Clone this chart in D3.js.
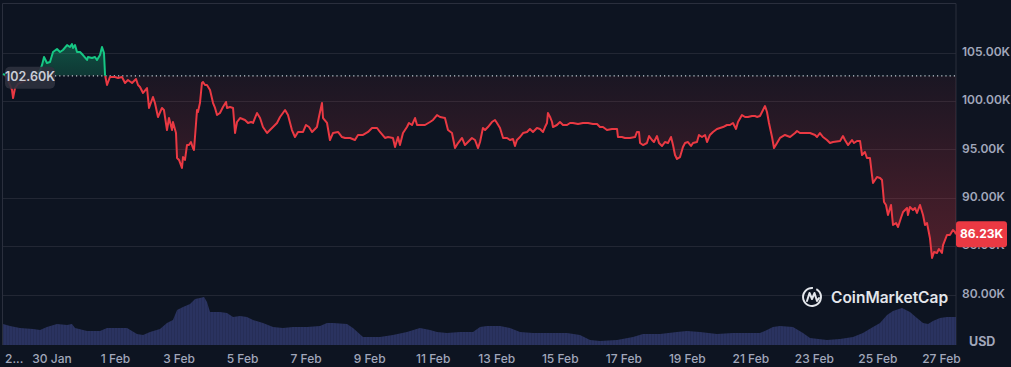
<!DOCTYPE html>
<html><head><meta charset="utf-8">
<script src="https://cdn.jsdelivr.net/npm/d3@7"></script>
<style>html,body{margin:0;padding:0;background:#0d1421;overflow:hidden;} svg{display:block;font-family:Inter,"Noto Sans",sans-serif;}</style>
</head><body><svg id="chart" width="1011" height="367"></svg>
<script>
// ---- data (hours since 28 Jan 2025 11:00 UTC, price in thousands USD) ----
const startTime = Date.UTC(2025, 0, 28, 11);
const spanHours = 720;
const pricePoints = [
[0,102.79],[1.5,102.69],[3,102.38],[5.3,101.65],[6.8,101.14],[7.6,100.31],[9.1,101.34],[11.3,101.76],[14.4,101.96],[18.1,102.17],
[21.9,102.38],[25.7,102.79],[28,103.20],[29.5,103.72],[31,104.55],[33.2,103.93],[35.5,104.03],[37.8,105.06],[40.8,105.37],[43.1,105.06],
[45.3,105.27],[48.4,105.78],[50.6,105.58],[52.1,105.89],[52.9,105.47],[54.4,105.78],[55.9,105.06],[58.2,105.06],[60.4,104.75],[63.5,104.24],
[64.2,104.55],[67.2,104.44],[69.5,104.55],[71,104.24],[73.3,104.75],[74.8,105.58],[76.3,104.96],[77.1,102.69],[78.6,101.65],[80.8,102.48],
[84.6,102.48],[86.9,102.38],[89.9,102.48],[92.2,101.86],[94.4,102.17],[97.5,101.86],[100.5,102.27],[102,101.65],[103.5,101.45],[105.8,100.83],
[108.8,101.34],[110.3,99.28],[113.3,100.41],[114.8,99.79],[117.1,98.35],[120.1,99.28],[121.6,99.07],[123.9,97.00],[125.4,98.24],[127.7,97.00],
[128.4,97.83],[130.7,96.69],[131.5,94.11],[133,93.91],[135.2,93.08],[136,94.21],[137.5,93.91],[139,95.45],[140.5,95.45],[142,95.76],
[143.5,95.14],[144.3,94.94],[146.6,99.07],[147.3,98.86],[148.8,99.79],[150.3,101.86],[151.1,101.96],[152.6,101.65],[154.1,101.65],[156.4,101.14],
[158.7,99.79],[160.2,99.28],[161.7,98.55],[163.9,98.76],[166.2,99.38],[168.5,99.90],[169.2,99.28],[171.5,99.38],[173.8,99.28],[175.3,96.69],
[176.8,97.83],[179.1,98.24],[182.8,98.04],[185.1,97.73],[187.4,97.83],[188.9,97.73],[191.9,98.76],[194.2,98.24],[196.4,97.31],[199.5,96.69],
[201.7,97.00],[204,97.31],[207,97.73],[209.3,98.35],[213.1,99.07],[215.3,98.55],[218.3,97.00],[220.6,96.28],[222.9,96.80],[226.7,96.80],
[228.9,97.52],[231.2,97.31],[233.5,96.80],[237.2,97.31],[238.7,98.35],[241,99.79],[241.8,98.24],[244.8,97.73],[247,95.97],[249.3,96.69],
[253.1,96.80],[256.1,96.28],[258.4,96.18],[262.2,96.18],[265.9,95.97],[268.2,96.49],[272,96.49],[275.8,96.80],[278.8,97.21],[282.6,97.21],
[284.8,96.80],[288.6,96.18],[290.9,96.28],[294.6,96.18],[296.2,95.25],[298.4,96.28],[299.9,95.45],[302.2,96.69],[305.2,97.31],[306.7,97.73],
[309,97.52],[311.3,98.24],[312.8,97.52],[315,97.52],[318.8,97.52],[322.6,97.83],[324.9,98.04],[327.9,98.55],[330.2,98.35],[333.9,98.24],
[336.2,97.00],[339.2,96.69],[341.5,95.14],[343.8,95.66],[346.8,96.18],[349,95.45],[351.3,95.76],[354.3,96.18],[356.6,95.97],[358.9,95.14],
[360.4,95.76],[362.6,97.21],[364.2,97.00],[366.4,97.31],[369.4,97.83],[371.7,98.04],[373.2,97.73],[375.5,97.21],[377.8,96.18],[380.8,96.18],
[383,95.97],[385.3,96.07],[386.8,95.35],[388.3,95.97],[390.6,96.28],[392.9,96.69],[395.9,96.80],[398.1,97.11],[400.4,96.80],[403.4,97.21],
[405.7,97.11],[408,96.80],[409.5,97.31],[411,97.73],[411.7,98.76],[413.3,98.35],[414.8,97.83],[415.5,97.31],[418.5,97.52],[420.8,97.83],
[423.1,97.52],[426.1,97.52],[428.4,97.73],[430.6,97.73],[434.4,97.62],[438.2,97.73],[442,97.73],[445.7,97.62],[448.8,97.62],[451,97.31],
[453.3,97.31],[456.3,97.00],[460.1,97.11],[463.9,97.11],[464.6,96.28],[467.6,96.28],[469.9,96.18],[473.7,96.18],[477.5,96.28],[479,96.80],
[480.5,96.80],[481.3,95.66],[483.5,95.45],[486.5,95.66],[488.1,96.38],[490.3,95.97],[491.8,95.76],[494.1,96.38],[495.6,95.66],[497.9,95.35],
[500.1,95.76],[502.4,95.66],[504.7,96.28],[506.2,95.45],[507.7,94.42],[509.2,94.01],[511.5,94.21],[513.7,95.25],[515.3,95.66],[517.5,95.76],
[519.8,95.35],[521.3,95.66],[524.3,95.76],[525.8,96.49],[528.1,96.28],[530.4,96.49],[531.9,95.76],[534.1,96.49],[536.4,96.80],[539.4,97.11],
[541.7,97.21],[544,97.31],[547,97.52],[549.2,97.52],[551.5,97.73],[553.8,97.11],[555.3,97.83],[558.3,98.55],[560.6,98.35],[562.8,98.35],
[565.9,98.45],[568.1,98.45],[569.6,98.35],[571.9,98.45],[574.2,99.07],[575.7,99.48],[577.2,98.86],[578.7,97.73],[581,96.28],[582.5,95.14],
[584.8,95.66],[587,96.18],[590.8,96.49],[594.6,96.28],[598.4,96.69],[599.9,96.90],[602.1,96.69],[607.4,96.69],[609.7,96.69],[613.5,96.49],
[615,96.28],[617.2,96.69],[619.5,96.28],[622.5,95.97],[624.8,95.66],[627.1,95.76],[632.4,95.87],[634.6,96.38],[636.1,95.97],[638.4,95.45],
[641.4,95.97],[642.9,95.66],[645.2,95.87],[647.5,95.87],[649,94.42],[651.2,94.73],[652.7,94.11],[655,94.11],[656.5,92.36],[657.3,91.53],
[660.3,92.15],[662.6,92.05],[664.1,91.84],[665.6,89.57],[667.1,89.26],[668.6,88.22],[670.9,89.26],[672.4,87.19],[674.7,87.40],[676.2,86.98],
[678.4,87.91],[680,88.53],[683,88.95],[683.7,88.22],[685.2,89.05],[687.5,88.74],[689,88.95],[690.5,88.43],[692.8,89.26],[695.1,88.22],
[696.6,87.19],[698.1,87.40],[700.3,85.85],[701.9,83.78],[703.4,84.40],[705.6,84.30],[707.1,84.71],[709.4,84.30],[710.2,85.12],[713.2,86.16],
[715.4,86.16],[717.7,86.67],[719.2,86.47],[720,86.23]
];
// volume (billions USD)
const volumePoints = [
[0,42],[5.3,38],[12.8,34],[22.7,32],[28,30],[33.2,36],[40.8,42],[48.4,40],[52.1,42],[54.4,34],
[63.5,28],[73.3,28],[78.6,34],[93.7,34],[101.2,22],[105.8,20],[111.1,26],[118.6,32],[123.9,44],[128.4,50],
[131.5,70],[136,76],[141.3,82],[145.1,92],[148.8,94],[151.9,96],[154.1,86],[156.4,66],[163.9,66],[169.2,64],
[173.8,56],[179.1,58],[184.3,56],[188.9,50],[196.4,44],[204,36],[211.5,34],[219.1,36],[229.7,36],[239.5,38],
[244.8,44],[249.3,44],[259.9,42],[264.4,34],[272,16],[284.8,16],[294.6,20],[305.2,26],[315,34],[322.6,30],
[327.9,26],[335.4,24],[345.3,26],[355.1,26],[360.4,36],[365.7,38],[375.5,38],[383,34],[390.6,26],[400.4,24],
[411,24],[415.5,24],[426.1,24],[435.9,20],[443.5,10],[451,8],[463.9,10],[476,16],[483.5,22],[496.4,22],
[509.2,26],[516.8,28],[526.6,26],[539.4,22],[551.5,24],[571.9,24],[577.2,30],[581.7,36],[587,38],[596.8,36],
[604.4,24],[609.7,14],[622.5,10],[632.4,12],[642.2,16],[649.7,24],[657.3,36],[662.6,44],[667.9,60],[672.4,68],
[679.2,74],[685.2,66],[690.5,54],[695.1,44],[698.9,42],[702.6,48],[707.9,54],[713.2,56],[719.2,56],[720,56]
];
const xTickDates = ["2025-01-28","2025-01-30","2025-02-01","2025-02-03","2025-02-05","2025-02-07","2025-02-09","2025-02-11",
  "2025-02-13","2025-02-15","2025-02-17","2025-02-19","2025-02-21","2025-02-23","2025-02-25","2025-02-27"];
const xTickLabels = ["2...","30 Jan","1 Feb","3 Feb","5 Feb","7 Feb","9 Feb","11 Feb","13 Feb","15 Feb","17 Feb","19 Feb","21 Feb","23 Feb","25 Feb","27 Feb"];
const yTickValues = [80, 85, 90, 95, 100, 105];
const yTickLabels = ["80.00K","85.00K","90.00K","95.00K","100.00K","105.00K"];
const baselinePrice = 102.60;
const lastPrice = 86.23;
const currencyLabel = "USD";
const brandName = "CoinMarketCap";

// ---- drawing ----
const svg = d3.select("#chart");
const W = 1011, H = 367;
const pLeft = 2.5, pRight = 956, pTop = 3, pBottom = 345;
const toDate = h => new Date(startTime + h * 3600e3);

const x = d3.scaleUtc().domain([toDate(0), toDate(spanHours)]).range([3, pRight]);
const y = d3.scaleLinear().domain([80, 105]).range([294.6, 52.6]);
const yv = d3.scaleLinear().domain([0, 100]).range([pBottom, 295]);

svg.append("rect").attr("width", W).attr("height", H).attr("fill", "#0d1421");

const defs = svg.append("defs");
const yBase = y(baselinePrice);
const yMin = y(d3.min(pricePoints, d => d[1]));

const gRed = defs.append("linearGradient").attr("id", "gRed").attr("gradientUnits", "userSpaceOnUse")
  .attr("x1", 0).attr("x2", 0).attr("y1", yBase).attr("y2", yMin);
gRed.append("stop").attr("offset", 0).attr("stop-color", "#ea3943").attr("stop-opacity", 0.06);
gRed.append("stop").attr("offset", 1).attr("stop-color", "#ea3943").attr("stop-opacity", 0.30);
const gGreen = defs.append("linearGradient").attr("id", "gGreen").attr("gradientUnits", "userSpaceOnUse")
  .attr("x1", 0).attr("x2", 0).attr("y1", y(106)).attr("y2", yBase);
gGreen.append("stop").attr("offset", 0).attr("stop-color", "#16c784").attr("stop-opacity", 0.34);
gGreen.append("stop").attr("offset", 1).attr("stop-color", "#16c784").attr("stop-opacity", 0.2);

defs.append("clipPath").attr("id", "clipAbove").append("rect")
  .attr("x", 0).attr("y", 0).attr("width", pRight).attr("height", yBase);
defs.append("clipPath").attr("id", "clipBelow").append("rect")
  .attr("x", 0).attr("y", yBase).attr("width", pRight).attr("height", H - yBase);

const pat = defs.append("pattern").attr("id", "volPat").attr("patternUnits", "userSpaceOnUse")
  .attr("width", 3).attr("height", 10);
pat.append("rect").attr("width", 3).attr("height", 10).attr("fill", "#2a3360");
pat.append("rect").attr("width", 0.7).attr("height", 10).attr("fill", "#242c53");

// gridlines
svg.append("g").selectAll("line").data(yTickValues).join("line")
  .attr("x1", pLeft).attr("x2", pRight).attr("y1", d => Math.round(y(d)) + 0.5).attr("y2", d => Math.round(y(d)) + 0.5)
  .attr("stroke", "#222734").attr("stroke-width", 1);

// frame
svg.append("path").attr("d", `M${pLeft},${pBottom}V${pTop + 0.5}H${pRight}V${pBottom}`)
  .attr("fill", "none").attr("stroke", "#2a2f3d").attr("stroke-width", 1);

// volume
const volArea = d3.area().x(d => x(toDate(d[0]))).y0(pBottom).y1(d => yv(d[1]));
svg.append("path").datum(volumePoints).attr("d", volArea).attr("fill", "url(#volPat)");

// price area
const area = d3.area().x(d => x(toDate(d[0]))).y0(yBase).y1(d => y(d[1]));
const line = d3.line().x(d => x(toDate(d[0]))).y(d => y(d[1]));
svg.append("path").datum(pricePoints).attr("d", area).attr("fill", "url(#gRed)").attr("clip-path", "url(#clipBelow)");
svg.append("path").datum(pricePoints).attr("d", area).attr("fill", "url(#gGreen)").attr("clip-path", "url(#clipAbove)");

// baseline dotted
svg.append("line").attr("x1", 55).attr("x2", pRight).attr("y1", yBase).attr("y2", yBase)
  .attr("stroke", "#c5c9d3").attr("stroke-width", 1.2).attr("stroke-dasharray", "1.2 3");

svg.append("path").datum(pricePoints).attr("d", line).attr("fill", "none").attr("stroke", "#ea3943")
  .attr("stroke-width", 2).attr("stroke-linejoin", "round").attr("clip-path", "url(#clipBelow)");
svg.append("path").datum(pricePoints).attr("d", line).attr("fill", "none").attr("stroke", "#16c784")
  .attr("stroke-width", 2).attr("stroke-linejoin", "round").attr("clip-path", "url(#clipAbove)");

// baseline label
svg.append("rect").attr("x", 5).attr("y", yBase - 9).attr("width", 50).attr("height", 22).attr("rx", 5)
  .attr("fill", "#2d313e").attr("fill-opacity", 0.9);
svg.append("text").attr("x", 30).attr("y", yBase + 2).attr("text-anchor", "middle").attr("dominant-baseline", "middle")
  .attr("fill", "#c9cdd6").attr("font-size", 12.5).attr("font-weight", 600).text(d3.format(".2f")(baselinePrice) + "K");

// y axis labels
svg.append("g").selectAll("text").data(yTickValues).join("text")
  .attr("x", 962).attr("y", d => y(d)).attr("dominant-baseline", "middle")
  .attr("fill", "#a1a7bb").attr("font-size", 12).attr("font-weight", 600)
  .text((d, i) => yTickLabels[i]);
svg.append("text").attr("x", 969).attr("y", 343).attr("dominant-baseline", "middle")
  .attr("fill", "#a1a7bb").attr("font-size", 12.5).attr("font-weight", 700).text(currencyLabel);

// last price label
const yLast = y(lastPrice);
svg.append("rect").attr("x", pRight).attr("y", yLast - 13).attr("width", 51).attr("height", 26).attr("rx", 3).attr("fill", "#ea3943");
svg.append("text").attr("x", pRight + 25.5).attr("y", yLast + 0.5).attr("text-anchor", "middle").attr("dominant-baseline", "middle")
  .attr("fill", "#ffffff").attr("font-size", 12).attr("font-weight", 700).text(d3.format(".2f")(lastPrice) + "K");

// x axis labels
const parse = d3.utcParse("%Y-%m-%d");
svg.append("g").selectAll("text").data(xTickDates).join("text")
  .attr("x", d => { const px = x(parse(d)); return px < 20 ? 5 : px; })
  .attr("text-anchor", d => x(parse(d)) < 20 ? "start" : "middle")
  .attr("y", 360).attr("dominant-baseline", "middle")
  .attr("fill", "#a1a7bb").attr("font-size", 12).attr("font-weight", 500)
  .text((d, i) => xTickLabels[i]);

// brand watermark
const logo = svg.append("g").attr("transform", "translate(812,297)");
logo.append("path").attr("d", d3.arc()({innerRadius: 8, outerRadius: 10, startAngle: 0.5, endAngle: 2 * Math.PI + 0.1}))
  .attr("fill", "#e3e6eb");
logo.append("path").attr("d", "M-5,4 L-2.5,-4 L0,2 L2.5,-4 L5,4 L7,1")
  .attr("fill", "none").attr("stroke", "#e3e6eb").attr("stroke-width", 2).attr("stroke-linejoin", "round").attr("stroke-linecap", "round");
svg.append("text").attr("x", 831).attr("y", 303).attr("fill", "#e3e6eb").attr("font-size", 15.5).attr("font-weight", 600)
  .text(brandName);
</script></body></html>
